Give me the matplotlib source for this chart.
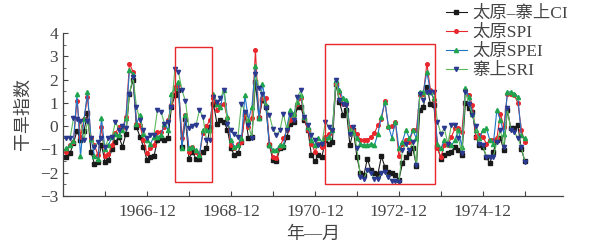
import numpy as np
import matplotlib
matplotlib.use('Agg')
from matplotlib import pyplot as plt
from matplotlib.patches import Rectangle

plt.rcParams['font.family'] = ['Liberation Serif', 'Noto Sans CJK SC']
plt.rcParams['axes.unicode_minus'] = True

# monthly values, 1965-01 .. 1975-12
ci = [-1.32, -1.17, -0.72, -0.2, -0.6, -0.2, 0.55, -1.1, -1.63, -1.53, -0.8, -1.55,
      -1.45, -1.0, -0.67, -0.46, -0.89, -0.32, 1.4, 2.0, -0.03, -0.46, -0.89, -1.46,
      -1.32, -1.29, -0.6, -0.53, -0.6, -0.53, 0.83, 1.33, 1.55, -0.9, 0.3, -1.39,
      -1.1, -1.4, -1.4, -1.1, -0.96, -0.03, 0.97, 0.11, 0.26, 0.19, -0.15, -0.96,
      -1.25, -1.17, -0.67, 0.54, -0.49, -0.46, 1.9, 0.33, 1.12, 0.83, -0.82, -1.46,
      -1.49, -0.96, -0.89, -0.46, 0.11, 0.19, 0.83, 0.83, 0.26, -0.17, -1.25, -1.5,
      -1.25, -1.32, -0.6, -0.75, -0.67, 1.83, 1.05, 0.47, 0.69, -0.82, -0.17, -1.32,
      -2.03, -2.1, -1.39, -1.9, -2.0, -2.05, -1.3, -1.75, -1.96, -2.03, -2.1, -2.3,
      -1.6, -1.32, -1.17, -0.96, -1.7, 0.69, 0.83, 1.69, 0.97, 0.9, -0.89, -1.39,
      -1.25, -1.17, -1.1, -0.89, -1.03, -1.25, 1.0, 0.8, 0.62, -0.46, -0.82, -0.89,
      -1.32, -1.6, -1.1, -0.6, -0.53, -1.03, 0.69, -0.1, -0.1, 0.04, -1.0, -1.5]
spi = [-1.13, -0.82, -0.67, 1.1, -0.45, 0.3, 1.26, -0.5, -0.82, -1.25, -0.05, -1.3,
       -1.2, -0.82, -0.3, -0.03, -0.1, 0.4, 2.69, 2.33, 0.11, 0.04, -0.6, -1.17,
       -0.96, -0.82, -0.25, -0.25, -0.03, 0.26, 0.9, 1.69, 1.76, -0.5, 0.5, -1.1,
       -0.9, -1.1, -1.25, -0.3, 0.0, 0.26, 1.19, 0.69, 0.9, 0.97, 0.35, -0.82,
       -0.96, -0.75, -0.67, 0.54, -0.03, 0.33, 3.26, 0.4, 1.19, 1.19, -0.75, -1.32,
       -1.36, -0.89, -0.53, -0.17, 0.26, 0.47, 0.97, 1.19, 0.33, -0.17, -0.75, -1.1,
       -0.75, -0.89, -0.46, -0.32, -0.17, 1.83, 1.47, 0.97, 0.97, -0.03, -0.17, -0.32,
       -0.6, -0.6, -0.6, -0.45, -0.3, 0.04, 0.3, 1.07, -0.03, 0.0, 0.19, -1.3,
       -0.75, -0.6, -0.67, -0.17, -0.17, 1.33, 1.4, 2.69, 1.55, 1.12, -0.96, -1.32,
       -0.82, -0.82, -0.46, -0.1, -0.1, -0.25, 1.55, 1.33, 0.9, -0.46, -0.39, -0.46,
       -0.75, -0.6, -0.6, -0.53, 0.54, -0.03, 1.4, 1.4, 1.33, 1.0, -0.17, -0.7]
spei = [-0.96, -0.82, -0.64, 1.38, -1.3, 0.3, 1.45, -0.55, -1.3, -1.4, 0.33, -1.0,
        -0.82, -0.46, -0.32, -0.39, -0.17, 0.33, 2.4, 2.26, 0.11, 0.47, -0.32, -0.6,
        -0.75, -0.46, -0.46, -0.39, 0.11, -0.17, 1.4, 1.62, 1.9, -0.92, 0.47, -0.96,
        -0.89, -1.03, -1.25, -0.17, -0.17, -0.17, 1.4, 0.97, 0.83, 1.57, 0.4, -0.6,
        -0.89, -0.82, -0.53, 1.33, 0.26, 0.83, 2.6, 0.33, 1.83, 0.9, -0.82, -1.03,
        -1.03, -0.82, -0.82, -0.03, 0.69, 0.54, 1.05, 1.33, 0.4, -0.03, -0.6, -0.82,
        -0.53, -0.67, -0.53, -0.46, -0.17, 1.98, 1.55, 1.19, 1.12, -0.17, -0.25, -0.5,
        -0.75, -0.82, -0.82, -0.75, -0.82, -0.32, 0.4, 1.05, 0.0, -0.5, 0.19, -0.96,
        -0.67, -0.17, -0.53, -0.17, -0.53, 1.47, 1.47, 2.33, 1.47, 1.19, -0.75, -0.96,
        -0.6, -0.75, -0.82, -0.6, -0.17, -0.89, 1.62, 1.26, 0.54, -0.17, -0.53, -0.17,
        -0.1, -0.6, -0.75, 0.69, 0.26, -0.32, 1.47, 1.47, 1.4, 1.26, -0.4, -0.52]
sri = [-0.49, -0.53, 0.33, 0.3, 0.2, -0.6, 0.2, -0.5, -0.9, -0.7, -0.5, -0.9,
       -0.53, -0.46, 0.19, -0.17, 0.0, -0.1, 1.4, 2.12, 0.83, 0.26, -0.17, -0.53,
       -0.39, -0.36, 0.69, 0.62, 0.11, 0.19, 0.83, 2.47, 2.33, 1.55, 1.07, -0.1,
       0.0, 0.04, 0.69, 0.4, -0.6, -0.6, 1.26, 1.05, 1.19, 1.57, 0.1, -0.17,
       -0.35, -0.46, 0.97, 0.62, 0.04, -0.53, 2.26, 1.62, 1.4, 0.76, 0.47, -0.13,
       -0.39, -0.17, 0.54, -0.17, 0.47, 0.26, 1.26, 1.55, 0.4, 0.04, -0.4, -0.6,
       -0.82, -0.75, 0.19, -0.03, -0.17, 1.98, 1.12, 0.97, 0.9, -0.32, -0.03, -0.96,
       -2.17, -2.25, -1.9, -2.03, -2.25, -2.25, -2.03, -1.96, -2.2, -2.35, -2.35, -2.4,
       -1.03, -0.75, -1.03, -0.67, -1.67, 1.4, 1.12, 1.47, 1.47, 1.47, 0.19, -0.32,
       -0.1, -0.75, 0.04, 0.04, -0.53, -1.17, 1.47, 0.97, 0.47, 0.0, -0.75, -0.82,
       -1.32, -1.32, -1.32, -0.67, -0.17, -0.89, 0.76, -0.17, -0.25, -0.53, -0.9, -1.53]

tick_months = [11, 23, 35, 47, 59, 71, 83, 95, 107, 119, 131]
tick_labels = ['', '1966-12', '', '1968-12', '', '1970-12', '', '1972-12', '', '1974-12', '']

# highlighted periods (month index, value range)
boxes = [(31.1, 41.6, -2.40, 3.39), (73.9, 105.2, -2.50, 3.51)]

months = np.arange(len(ci))
txt = '#444444'

fig = plt.figure(figsize=(5.95, 2.43), dpi=100)
ax = fig.add_axes([63/595, 1-196/243, 500/595, 163/243])

ax.plot(months, ci, color='#1a1a1a', lw=0.8, marker='s', ms=2.4, mfc='#1a1a1a', mec='#1a1a1a', label='太原–寨上CI')
ax.plot(months, spi, color='#e8262c', lw=0.8, marker='o', ms=2.6, mfc='#e8262c', mec='#e8262c', label='太原SPI')
ax.plot(months, spei, color='#1f74c6', lw=0.8, marker='^', ms=3.0, mfc='#20a44c', mec='#20a44c', label='太原SPEI')
ax.plot(months, sri, color='#5cb85c', lw=0.8, marker='v', ms=3.0, mfc='#2b3a90', mec='#2b3a90', label='寨上SRI')

for x0, x1, y0, y1 in boxes:
    ax.add_patch(Rectangle((x0, y0), x1 - x0, y1 - y0, fill=False, ec='#e8262c', lw=1.0, zorder=5))

ax.set_xlim(-1, 141.9)
ax.set_ylim(-3, 4)
ax.set_xticks(tick_months)
ax.set_xticklabels(tick_labels)
ax.set_yticks(np.arange(-3, 5, 1))
ax.set_yticks(np.arange(-3, 4.5, 0.5), minor=True)
for s in ['top', 'right']:
    ax.spines[s].set_visible(False)
for s in ['left', 'bottom']:
    ax.spines[s].set_color('#444444')
    ax.spines[s].set_linewidth(0.9)
ax.tick_params(direction='in', length=3.5, width=0.8, color='#444444', labelsize=12.5, labelcolor=txt)
ax.tick_params(which='minor', direction='in', length=2, width=0.6, color='#444444')
ax.tick_params(axis='x', pad=6)

ax.set_ylabel('干旱指数', fontsize=13, color=txt, labelpad=6)
ax.set_xlabel('年—月', fontsize=13, color=txt, labelpad=4)

fig.legend(loc='upper left', bbox_to_anchor=(446/595, 1 - 6/243), frameon=False,
           fontsize=12.5, handlelength=1.2, handletextpad=0.3, labelspacing=0.15,
           borderpad=0, borderaxespad=0, labelcolor=txt)

fig.savefig('out.png', dpi=100)
